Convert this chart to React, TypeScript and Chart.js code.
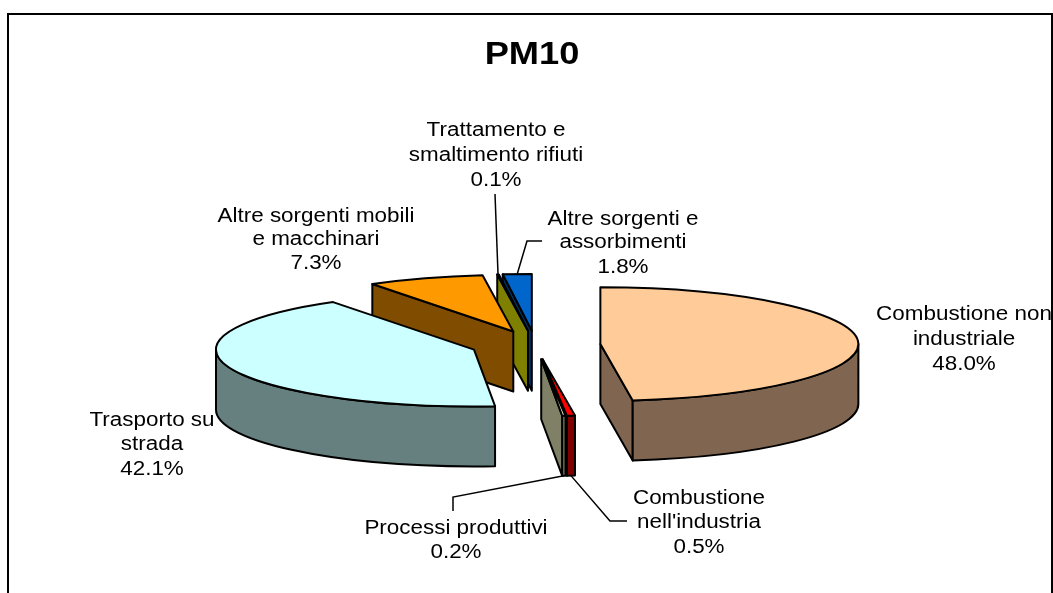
import React, { useEffect, useRef } from "react";
import { Chart, registerables } from "chart.js";

Chart.register(...registerables);

const chartTitle = "PM10";
const categories = [
  "Combustione non industriale",
  "Combustione nell'industria",
  "Processi produttivi",
  "Trasporto su strada",
  "Altre sorgenti mobili e macchinari",
  "Trattamento e smaltimento rifiuti",
  "Altre sorgenti e assorbimenti",
];
const values = [48.0, 0.5, 0.2, 42.1, 7.3, 0.1, 1.8];
const labelLines = [
  ["Combustione non", "industriale"],
  ["Combustione", "nell'industria"],
  ["Processi produttivi"],
  ["Trasporto su", "strada"],
  ["Altre sorgenti mobili", "e macchinari"],
  ["Trattamento e", "smaltimento rifiuti"],
  ["Altre sorgenti e", "assorbimenti"],
];
const topColors = ["#FFCC99", "#FF0000", "#FFFFCC", "#CCFFFF", "#FF9900", "#FFFF00", "#0066CC"];
const wallColors = ["#806650", "#800000", "#808066", "#668080", "#804D00", "#808000", "#003366"];

// Styling / layout of the pseudo-3D pie
const TILT = 0.22;
const WALL = 60;
const EXPLODE = 65;
const FONT = '19.5px "Liberation Sans"';
const TEXT_STRETCH = 1.15;
const DRAW_ORDER = [6, 5, 4, 3, 0, 1, 2];
const LABEL_BOXES = [
  { x: 964, y: [320, 345, 370] },
  { x: 699, y: [504, 528, 553] },
  { x: 456, y: [534, 558] },
  { x: 152, y: [426, 450, 475] },
  { x: 316, y: [222, 245, 269] },
  { x: 496, y: [136, 161, 186] },
  { x: 623, y: [225, 248, 273] },
];
const LEADERS: { index: number; wall: boolean; elbows: number[][] }[] = [
  { index: 1, wall: true, elbows: [[627, 521], [610, 521]] },
  { index: 2, wall: true, elbows: [[453, 511], [453, 497]] },
  { index: 5, wall: false, elbows: [[495, 194]] },
  { index: 6, wall: false, elbows: [[542, 241], [527, 241]] },
];

function geometry(arc: any) {
  const R = arc.outerRadius;
  const mid = (arc.startAngle + arc.endAngle) / 2;
  const dx = EXPLODE * Math.cos(mid);
  const dy = TILT * EXPLODE * Math.sin(mid);
  return { R, mid, dx, dy, ax: arc.x + dx, ay: arc.y + dy };
}

const pie3d = {
  id: "pie3d",
  beforeDraw(chart: any) {
    const block = chart.titleBlock;
    if (block && !block.__stretched) {
      const ctx = chart.ctx;
      const original = block.draw.bind(block);
      const sx = 1.17;
      const center = (chart.chartArea.left + chart.chartArea.right) / 2;
      block.draw = (...args: any[]) => {
        ctx.save();
        ctx.translate(532 - sx * center, 0);
        ctx.scale(sx, 1);
        original(...args);
        ctx.restore();
      };
      block.__stretched = true;
    }
  },
  beforeDatasetDraw(chart: any, args: any) {
    const ctx = chart.ctx;
    const arcs = args.meta.data;

    // labels and leader lines, underneath the slices
    ctx.save();
    ctx.beginPath();
    ctx.rect(0, 0, 1051, 593);
    ctx.clip();
    ctx.fillStyle = "#000";
    ctx.font = FONT;
    ctx.textAlign = "center";
    ctx.textBaseline = "alphabetic";
    values.forEach((v, i) => {
      const lines = [...labelLines[i], `${v.toFixed(1)}%`];
      lines.forEach((t, n) => {
        ctx.save();
        ctx.translate(LABEL_BOXES[i].x, LABEL_BOXES[i].y[n]);
        ctx.scale(TEXT_STRETCH, 1);
        ctx.fillText(t, 0, 0);
        ctx.restore();
      });
    });
    ctx.restore();

    ctx.save();
    ctx.strokeStyle = "#000";
    ctx.lineWidth = 1.5;
    LEADERS.forEach((l) => {
      const g = geometry(arcs[l.index]);
      ctx.beginPath();
      l.elbows.forEach(([x, y], n) => (n ? ctx.lineTo(x, y) : ctx.moveTo(x, y)));
      ctx.lineTo(
        g.ax + g.R * Math.cos(g.mid),
        g.ay + TILT * g.R * Math.sin(g.mid) + (l.wall ? WALL : 0)
      );
      ctx.stroke();
    });
    ctx.restore();

    // slices, back to front
    DRAW_ORDER.forEach((i) => {
      const arc = arcs[i];
      const { R, ax, ay, dx, dy } = geometry(arc);
      const s = arc.startAngle;
      const e = arc.endAngle;
      const ry = R * TILT;
      ctx.save();
      ctx.lineWidth = 2;
      ctx.lineJoin = "round";
      ctx.strokeStyle = "#000";
      ctx.fillStyle = wallColors[i];
      const face = (a: number) => {
        const px = ax + R * Math.cos(a);
        const py = ay + ry * Math.sin(a);
        ctx.beginPath();
        ctx.moveTo(ax, ay);
        ctx.lineTo(px, py);
        ctx.lineTo(px, py + WALL);
        ctx.lineTo(ax, ay + WALL);
        ctx.closePath();
        ctx.fill();
        ctx.stroke();
      };
      if (Math.cos(s) < 0) face(s);
      if (Math.cos(e) > 0) face(e);
      const lo = Math.max(s, 0);
      const hi = Math.min(e, Math.PI);
      if (hi > lo) {
        ctx.beginPath();
        ctx.ellipse(ax, ay, R, ry, 0, lo, hi);
        ctx.ellipse(ax, ay + WALL, R, ry, 0, hi, lo, true);
        ctx.closePath();
        ctx.fill();
        ctx.stroke();
      }
      // top face: the library's own arc, moved out and squashed
      ctx.save();
      ctx.translate(arc.x + dx, arc.y + dy);
      ctx.scale(1, TILT);
      ctx.translate(-arc.x, -arc.y);
      arc.draw(ctx, chart.chartArea);
      ctx.restore();
      ctx.beginPath();
      ctx.moveTo(ax, ay);
      ctx.ellipse(ax, ay, R, ry, 0, s, e);
      ctx.closePath();
      ctx.stroke();
      ctx.restore();
    });

    // chart frame
    ctx.save();
    ctx.strokeStyle = "#000";
    ctx.lineWidth = 2;
    ctx.beginPath();
    ctx.moveTo(8, 593);
    ctx.lineTo(8, 14);
    ctx.lineTo(1052, 14);
    ctx.lineTo(1052, 593);
    ctx.stroke();
    ctx.restore();
    return false;
  },
};

export default function App() {
  const ref = useRef<HTMLCanvasElement>(null);
  useEffect(() => {
    const chart = new Chart(ref.current as HTMLCanvasElement, {
      type: "pie",
      data: {
        labels: categories,
        datasets: [
          {
            data: values,
            backgroundColor: topColors,
            borderWidth: 0,
          },
        ],
      },
      options: {
        animation: false,
        responsive: false,
        events: [],
        radius: 258,
        layout: { padding: { left: 18, right: 0, top: 0, bottom: 0 } },
        plugins: {
          legend: { display: false },
          tooltip: { enabled: false },
          title: {
            display: true,
            text: chartTitle,
            color: "#000",
            font: { family: "Liberation Sans", size: 31, weight: "bold", lineHeight: 1.2 },
            padding: { top: 37, bottom: 22.8 },
          },
        },
      },
      plugins: [pie3d],
    } as any);
    return () => chart.destroy();
  }, []);
  return (
    <div style={{ position: "absolute", left: 0, top: 0, width: 1053, height: 593, overflow: "hidden", background: "#fff" }}>
      <canvas ref={ref} width={1053} height={593} style={{ display: "block" }} />
    </div>
  );
}
